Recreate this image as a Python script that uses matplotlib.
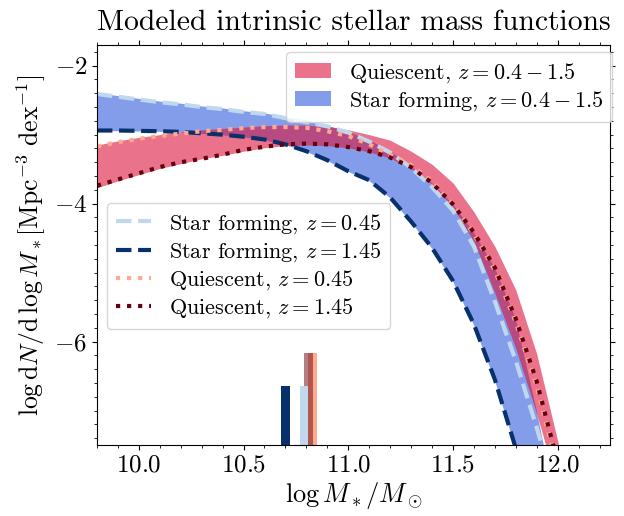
import matplotlib
matplotlib.use("Agg")
import matplotlib.pyplot as plt
import numpy as np

plt.rcParams['font.family'] = 'serif'
plt.rcParams['font.serif'] = ['cmr10']
plt.rcParams['mathtext.fontset'] = 'cm'
plt.rcParams['axes.formatter.use_mathtext'] = True
plt.rcParams['axes.unicode_minus'] = True

# log stellar mass grid
mass = np.array([9.8, 9.9, 10.0, 10.1, 10.2, 10.3, 10.4, 10.5, 10.6, 10.7, 10.8,
                 10.9, 11.0, 11.1, 11.2, 11.3, 11.4, 11.5, 11.6, 11.7, 11.8,
                 11.9, 12.0, 12.1])

# star forming SMF at z = 0.45 and z = 1.45
sf_z045 = np.array([-2.41, -2.45, -2.49, -2.53, -2.56, -2.60, -2.63, -2.67, -2.70,
                    -2.76, -2.82, -2.88, -2.97, -3.10, -3.26, -3.48, -3.76, -4.10,
                    -4.62, -5.42, -6.28, -7.25, -8.30, -9.50])
sf_z145 = np.array([-2.94, -2.94, -2.945, -2.95, -2.96, -2.98, -3.00, -3.03, -3.07,
                    -3.14, -3.24, -3.37, -3.53, -3.66, -3.91, -4.26, -4.64, -5.12,
                    -5.75, -6.55, -7.55, -8.60, -9.80, -11.0])

# quiescent SMF at z = 0.45 and z = 1.45
q_z045 = np.array([-3.17, -3.11, -3.06, -3.02, -2.985, -2.95, -2.93, -2.905, -2.89,
                   -2.89, -2.90, -2.95, -3.02, -3.14, -3.29, -3.44, -3.68, -4.01,
                   -4.44, -4.97, -5.72, -6.65, -7.85, -9.20])
q_z145 = np.array([-3.74, -3.65, -3.56, -3.47, -3.40, -3.35, -3.29, -3.22, -3.175,
                   -3.14, -3.13, -3.14, -3.18, -3.24, -3.33, -3.47, -3.70, -4.01,
                   -4.42, -4.93, -5.67, -6.58, -7.75, -9.10])

# envelopes over z = 0.4 - 1.5
sf_band_hi = np.array([-2.40, -2.44, -2.48, -2.52, -2.55, -2.59, -2.62, -2.66, -2.69,
                       -2.75, -2.81, -2.87, -2.96, -3.08, -3.24, -3.46, -3.70, -4.01,
                       -4.42, -4.93, -5.67, -7.00, -8.50, -10.0])
sf_band_lo = np.array([-2.95, -2.95, -2.955, -2.96, -2.97, -2.99, -3.01, -3.04, -3.08,
                       -3.15, -3.25, -3.38, -3.54, -3.67, -3.92, -4.27, -4.65, -5.13,
                       -5.76, -6.56, -7.56, -8.61, -9.81, -11.0])
q_band_hi = np.array([-3.15, -3.09, -3.04, -3.00, -2.96, -2.93, -2.91, -2.89, -2.87,
                      -2.86, -2.86, -2.88, -2.93, -3.00, -3.08, -3.24, -3.43, -3.70,
                      -4.12, -4.62, -5.25, -6.18, -7.44, -8.80])
q_band_lo = np.array([-3.77, -3.67, -3.58, -3.49, -3.42, -3.35, -3.30, -3.24, -3.19,
                      -3.16, -3.15, -3.16, -3.19, -3.25, -3.34, -3.49, -3.72, -4.05,
                      -4.55, -5.30, -6.10, -7.05, -8.10, -9.30])

# characteristic masses (bar position) and marker heights
char_mass = [10.70, 10.79, 10.81, 10.83]
char_top = [-6.64, -6.64, -6.17, -6.17]

c_sf045 = '#c0d8ee'
c_sf145 = '#08306b'
c_q045 = '#fcab8f'
c_q145 = '#67000d'

ymin, ymax = -7.5, -1.7

fig = plt.figure(figsize=(6.24, 5.16), dpi=100)
ax = fig.add_axes([0.1554, 0.1376, 0.8222, 0.7752])

band_sf = ax.fill_between(mass, sf_band_lo, sf_band_hi, color='royalblue', alpha=0.65,
                          lw=0, label=r'Star forming, $z=0.4-1.5$')
band_q = ax.fill_between(mass, q_band_lo, q_band_hi, color='crimson', alpha=0.6,
                         lw=0, label=r'Quiescent, $z=0.4-1.5$')

l1, = ax.plot(mass, sf_z045, ls='--', lw=3, color=c_sf045, label=r'Star forming, $z=0.45$')
l2, = ax.plot(mass, sf_z145, ls='--', lw=3, color=c_sf145, label=r'Star forming, $z=1.45$')
l3, = ax.plot(mass, q_z045, ls=':', lw=3, color=c_q045, label=r'Quiescent, $z=0.45$')
l4, = ax.plot(mass, q_z145, ls=':', lw=3, color=c_q145, label=r'Quiescent, $z=1.45$')

# characteristic mass markers along the bottom
ax.bar(char_mass[3], char_top[3] - ymin, bottom=ymin, width=0.04, color=c_q045)
ax.bar(char_mass[2], char_top[2] - ymin, bottom=ymin, width=0.04, color=c_q145, alpha=0.5)
ax.bar(char_mass[1], char_top[1] - ymin, bottom=ymin, width=0.04, color=c_sf045)
ax.bar(char_mass[0], char_top[0] - ymin, bottom=ymin, width=0.04, color=c_sf145)

ax.set_xlim(9.8, 12.25)
ax.set_ylim(ymin, ymax)
ax.set_xticks([10.0, 10.5, 11.0, 11.5, 12.0])
ax.set_yticks([-6, -4, -2])
ax.xaxis.set_minor_locator(plt.MultipleLocator(0.1))
ax.yaxis.set_minor_locator(plt.MultipleLocator(0.2))
ax.tick_params(which='both', top=True, right=True, labelsize=18)

ax.set_xlabel(r'$\log M_*/M_\odot$', fontsize=19, labelpad=2)
ax.set_ylabel(r'$\log \mathrm{d}N/\mathrm{d}\,\log M_*[\mathrm{Mpc}^{-3}\ \mathrm{dex}^{-1}]$',
              fontsize=18.5, labelpad=4)
ax.set_title('Modeled intrinsic stellar mass functions', fontsize=21.3, pad=11)

leg_kw = dict(fontsize=16, handlelength=1.6, labelspacing=0.2, borderaxespad=0)
leg1 = ax.legend(handles=[band_q, band_sf], loc='upper right',
                 bbox_to_anchor=(1.004, 0.9825), **leg_kw)
ax.add_artist(leg1)
ax.legend(handles=[l1, l2, l3, l4], loc='upper left',
          bbox_to_anchor=(0.0195, 0.605), **leg_kw)

fig.savefig('out.png', dpi=100)
